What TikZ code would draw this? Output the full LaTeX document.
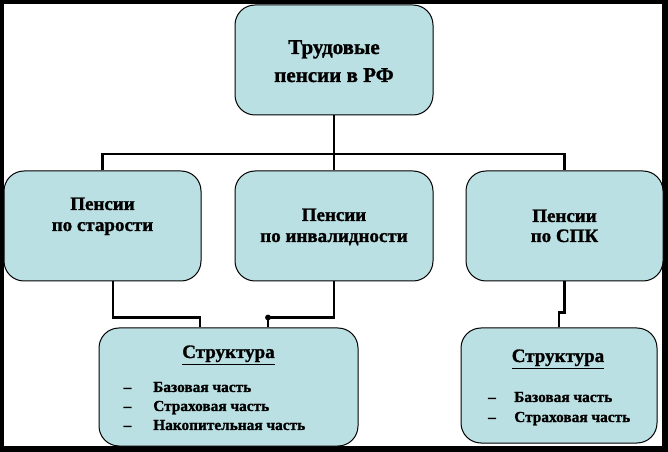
\documentclass[tikz,border=0pt]{standalone}
\usepackage{fontspec}
\setmainfont{Liberation Serif}[BoldFont={Liberation Serif Bold},BoldFeatures={FakeBold=1.2}]
\usetikzlibrary{calc}
\definecolor{boxfill}{RGB}{187,224,227}
\begin{document}
\begin{tikzpicture}[x=0.75pt,y=-0.75pt,
  box/.style={draw=black,line width=0.75pt,fill=boxfill,rounded corners=15pt,inner sep=0pt},
  conn/.style={line width=2.2pt,black},
  bigtxt/.style={font=\fontsize{15.75}{18}\selectfont\bfseries,inner sep=0pt,anchor=base},
  midtxt/.style={font=\fontsize{14.25}{16}\selectfont\bfseries,inner sep=0pt,anchor=base},
  itemtxt/.style={font=\fontsize{11.5}{13}\selectfont\bfseries,inner sep=0pt,anchor=base west},
  dashtxt/.style={font=\fontsize{11.5}{13}\selectfont\bfseries,inner sep=0pt,anchor=base}
]
\useasboundingbox (0,0) rectangle (668,452);
\fill[black] (0,0) rectangle (668,452);
\fill[white] (4,4) rectangle (662,446);

\node[box,minimum width=148.5pt,minimum height=82.5pt] (top) at (334,60) {};
\node[box,minimum width=147.75pt,minimum height=82.5pt] (left) at (102.5,226) {};
\node[box,minimum width=148.5pt,minimum height=82.5pt] (mid) at (334,226) {};
\node[box,minimum width=147.75pt,minimum height=82.5pt] (right) at (564.5,226) {};
\node[box,minimum width=194.25pt,minimum height=88.5pt] (sl) at (228.5,387) {};
\node[box,minimum width=147pt,minimum height=86.25pt] (sr) at (559,385.5) {};

\coordinate (bus) at (334,154);
\draw[conn] (top.south) -- (bus);
\draw[conn] (bus) -| (left.north);
\draw[conn] (bus) -| (right.north);
\draw[conn] (bus) -- (mid.north);

\draw[conn] ($(left.south)+(10.5,0)$) |- ($(sl.north)+(-28.5,-10)$) -- ($(sl.north)+(-28.5,0)$);
\coordinate (dot) at ($(sl.north)+(39.5,-10)$);
\draw[conn] (mid.south) |- (dot) -- ($(sl.north)+(39.5,0)$);
\fill (dot) circle (2.2pt);
\draw[conn] (right.south) -- ++(0,31) -| (sr.north);

\node[bigtxt] (t1) at (334,54) {Трудовые};
\node[bigtxt] (t2) at (334,82) {пенсии в РФ};

\node[midtxt] (l1) at (102.5,210) {Пенсии};
\node[midtxt] (l2) at (102.5,231) {по старости};
\node[midtxt] (m1) at (334,221) {Пенсии};
\node[midtxt] (m2) at (334,242) {по инвалидности};
\node[midtxt] (r1) at (564.5,222) {Пенсии};
\node[midtxt] (r2) at (564.5,242) {по СПК};

\node[midtxt] (s1) at (228.5,358) {\underline{Структура}};
\node[dashtxt] (d1) at (127.5,392) {–};
\node[dashtxt] (d2) at (127.5,411) {–};
\node[dashtxt] (d3) at (127.5,430) {–};
\node[itemtxt] (i1) at (153,392) {Базовая часть};
\node[itemtxt] (i2) at (153,411) {Страховая часть};
\node[itemtxt] (i3) at (153,430) {Накопительная часть};

\node[midtxt] (s2) at (558,362) {\underline{Структура}};
\node[dashtxt] (d4) at (492,402) {–};
\node[dashtxt] (d5) at (492,422) {–};
\node[itemtxt] (i4) at (514,402) {Базовая часть};
\node[itemtxt] (i5) at (514,422) {Страховая часть};
\end{tikzpicture}
\end{document}
